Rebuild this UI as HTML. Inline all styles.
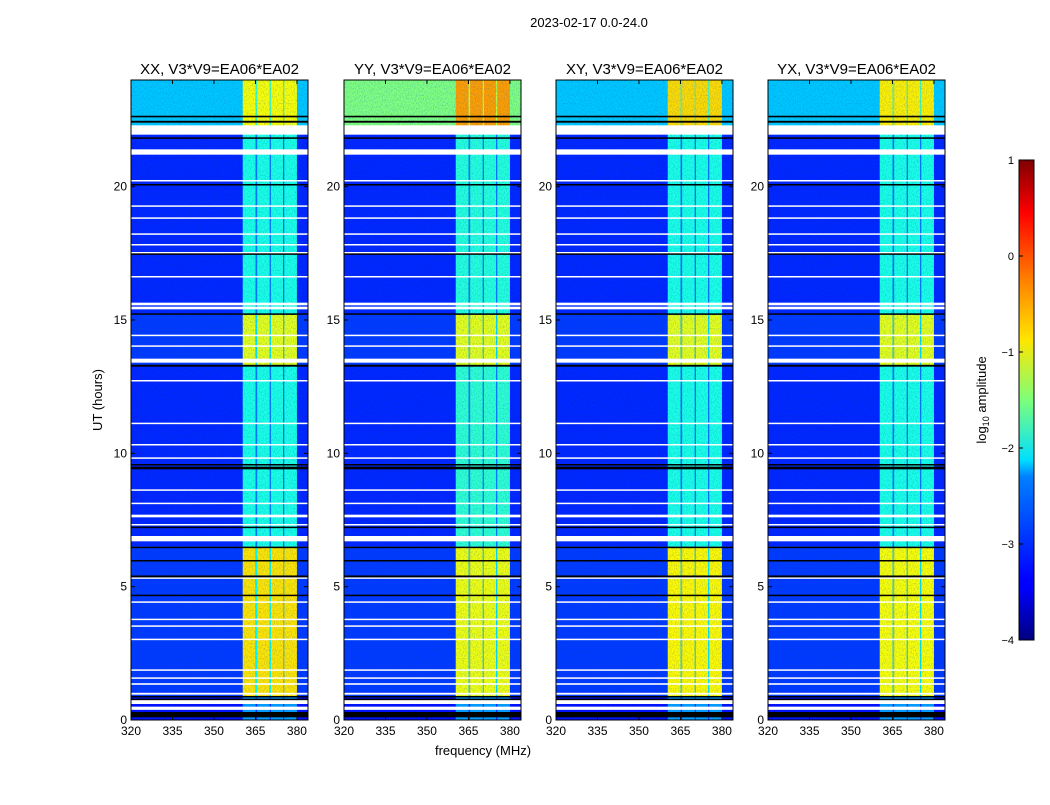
<!DOCTYPE html>
<html><head><meta charset="utf-8"><style>
body{margin:0;background:#fff;width:1050px;height:800px;overflow:hidden;font-family:"Liberation Sans",sans-serif}
svg text{font-family:"Liberation Sans",sans-serif}
</style></head><body>
<svg id="chart" width="1050" height="800" xmlns="http://www.w3.org/2000/svg">
<defs>
<filter id="noise" x="0" y="0" width="100%" height="100%">
<feTurbulence type="fractalNoise" baseFrequency="0.9 0.6" numOctaves="2" seed="3" result="t"/>
<feColorMatrix type="matrix" values="0 0 0 0 0  0 0 0 0 0.1  0 0 0 0 0.5  0 0 0 1.4 -0.6"/>
</filter>
<linearGradient id="jet" x1="0" y1="1" x2="0" y2="0">
<stop offset="0" stop-color="#00007f"/><stop offset="0.11" stop-color="#0000ff"/><stop offset="0.125" stop-color="#0000ff"/>
<stop offset="0.34" stop-color="#0080ff"/><stop offset="0.375" stop-color="#00dfff"/><stop offset="0.5" stop-color="#7dff7a"/>
<stop offset="0.625" stop-color="#ffe600"/><stop offset="0.75" stop-color="#ff8000"/><stop offset="0.89" stop-color="#ff0000"/><stop offset="1" stop-color="#7f0000"/>
</linearGradient>
</defs>
<text x="589" y="27" font-size="13" text-anchor="middle">2023-02-17 0.0-24.0</text>
<text x="483" y="755" font-size="13" text-anchor="middle">frequency (MHz)</text>
<text transform="translate(102,400) rotate(-90)" font-size="13" text-anchor="middle">UT (hours)</text>
<g id="panels"></g>
<g id="cbar"></g>
</svg>
<script>
// ---- data ----
const panelTitles = ["XX, V3*V9=EA06*EA02","YY, V3*V9=EA06*EA02","XY, V3*V9=EA06*EA02","YX, V3*V9=EA06*EA02"];
const xTicks = [320,335,350,365,380];
const yTicks = [0,5,10,15,20];
const cbarTicks = [1,0,-1,-2,-3,-4];
// time segments [startHour, endHour]
const segStart = [0.0, 0.86, 6.5, 13.3, 15.2, 22.2];
const segEnd   = [0.86, 6.5, 13.3, 15.2, 22.2, 24.0];
// background (off-band) log10 amplitude per segment, per panel
const bgLevel = [
 [-3.3,-3.1,-3.2,-3.1,-3.2,-2.4],
 [-3.3,-3.1,-3.2,-3.1,-3.2,-1.5],
 [-3.3,-3.1,-3.2,-3.1,-3.2,-2.4],
 [-3.3,-3.1,-3.2,-3.1,-3.2,-2.4]];
// RFI band log10 amplitude per segment, per panel
const bandLevel = [
 [-2.6,-0.75,-2.0,-1.0,-2.0,-0.9],
 [-2.6,-0.95,-1.9,-1.0,-1.95,-0.4],
 [-2.6,-0.85,-2.0,-1.0,-2.0,-0.7],
 [-2.6,-0.9,-2.0,-1.0,-2.0,-0.8]];
// sub-band edges in MHz
const bandLo = [360.4,365.6,370.6,375.4];
const bandHi = [365.1,370.2,375.0,380.0];
// flagged (white) rows [hourStart, hourEnd]
const whiteLo = [0.38,0.6,0.95,1.32,1.55,1.85,3.0,3.5,3.75,4.4,5.3,6.7,7.3,7.6,8.1,8.6,9.8,10.3,11.1,12.7,13.4,14.0,14.4,15.4,15.55,16.6,17.5,17.8,18.2,18.8,19.25,20.2,21.2,21.95];
const whiteHi = [0.5,0.75,1.02,1.38,1.6,1.9,3.05,3.55,3.8,4.45,5.35,6.9,7.35,7.7,8.15,8.65,9.85,10.35,11.15,12.75,13.55,14.05,14.45,15.5,15.65,16.65,17.55,17.85,18.25,18.85,19.3,20.25,21.4,22.3];
// dead (black) rows [hourStart, hourEnd]
const blackLo = [0.1,0.75,0.85,4.65,5.35,5.95,6.45,7.2,9.4,9.55,13.25,15.2,17.45,20.05,21.8,22.4,22.6];
const blackHi = [0.3,0.8,0.9,4.7,5.42,6.0,6.5,7.25,9.5,9.6,13.32,15.25,17.5,20.1,21.85,22.47,22.66];
// ---- axes ----
const panelX0 = [131,344,556,768], pw = 177, ptop = 80, pbot = 720;
const fmin = 320, fmax = 384, hmax = 24;
const xs = (p,f)=>panelX0[p] + (f-fmin)/(fmax-fmin)*pw;
const ys = h => pbot - h/hmax*(pbot-ptop);
function jet(v){ // v in -4..1
  let t = Math.max(0,Math.min(1,(v+4)/5));
  const r = Math.max(0,Math.min(1,1.5-Math.abs(4*t-3)));
  const g = Math.max(0,Math.min(1,1.5-Math.abs(4*t-2)));
  const b = Math.max(0,Math.min(1,1.5-Math.abs(4*t-1)));
  return `rgb(${Math.round(r*255)},${Math.round(g*255)},${Math.round(b*255)})`;
}
const NS="http://www.w3.org/2000/svg";
function mk(tag,attrs,parent){const e=document.createElementNS(NS,tag);for(const k in attrs)e.setAttribute(k,attrs[k]);parent.appendChild(e);return e;}
const root=document.getElementById('panels');
for(let p=0;p<4;p++){
  const g=mk('g',{},root);
  
  
  const t=mk('text',{x:panelX0[p]+pw/2,y:74,'font-size':15,'text-anchor':'middle'},g);
  t.textContent=panelTitles[p];
  
  
  for(let s=0;s<segStart.length;s++){
    const y1=ys(segEnd[s]), y2=ys(segStart[s]);
    const bg=mk('rect',{x:xs(p,fmin),y:y1,width:pw,height:y2-y1,fill:jet(bgLevel[p][s])},g);
    
    
    for(let b=0;b<bandLo.length;b++){
      const r=mk('rect',{x:xs(p,bandLo[b]),y:y1,width:xs(p,bandHi[b])-xs(p,bandLo[b]),height:y2-y1,fill:jet(bandLevel[p][s])},g);
      
      
      if(b<bandLo.length-1){
        const gp=mk('rect',{x:xs(p,bandHi[b]),y:y1,width:xs(p,bandLo[b+1])-xs(p,bandHi[b]),height:y2-y1,fill:jet((bandLevel[p][s]+bgLevel[p][s])/2-0.2)},g);
        
        
      }
    }
  }
  mk('rect',{x:panelX0[p],y:ptop,width:pw,height:pbot-ptop,fill:'#000',filter:'url(#noise)',opacity:0.5},g);
  for(let i=0;i<whiteLo.length;i++){
    const r=mk('rect',{x:panelX0[p],y:ys(whiteHi[i]),width:pw,height:Math.max(1.5,ys(whiteLo[i])-ys(whiteHi[i])),fill:'#fff'},g);
    
    
  }
  for(let i=0;i<blackLo.length;i++){
    const r=mk('rect',{x:panelX0[p],y:ys(blackHi[i]),width:pw,height:Math.max(1.5,ys(blackLo[i])-ys(blackHi[i])),fill:'#000'},g);
    
    
  }
  mk('rect',{x:panelX0[p],y:ptop,width:pw,height:pbot-ptop,fill:'none',stroke:'#000','stroke-width':1},g);
  xTicks.forEach(v=>{
    const x=xs(p,v);
    mk('line',{x1:x,y1:pbot,x2:x,y2:pbot-4,stroke:'#000'},g);
    mk('line',{x1:x,y1:ptop,x2:x,y2:ptop+4,stroke:'#000'},g);
    const tx=mk('text',{x:x,y:pbot+15,'font-size':12,'text-anchor':'middle'},g);
    tx.textContent=v;
    
    
  });
  yTicks.forEach(v=>{
    const y=ys(v);
    mk('line',{x1:panelX0[p],y1:y,x2:panelX0[p]+4,y2:y,stroke:'#000'},g);
    mk('line',{x1:panelX0[p]+pw,y1:y,x2:panelX0[p]+pw-4,y2:y,stroke:'#000'},g);
    const ty=mk('text',{x:panelX0[p]-4,y:y+4,'font-size':12,'text-anchor':'end'},g);
    ty.textContent=v;
    
    
  });
}
// colorbar
const cb=document.getElementById('cbar');
const cbTop=160,cbBot=640,cbX=1019,cbW=15;
const cy=v=>cbBot-(v+4)/5*(cbBot-cbTop);
mk('rect',{x:cbX,y:cbTop,width:cbW,height:cbBot-cbTop,fill:'url(#jet)',stroke:'#000'},cb);
cbarTicks.forEach(v=>{
  const t=mk('text',{x:cbX-5,y:cy(v)+4,'font-size':11,'text-anchor':'end'},cb);
  t.textContent=(v<0?'\u2212'+(-v):v);
  
  
  mk('line',{x1:cbX,y1:cy(v),x2:cbX+4,y2:cy(v),stroke:'#000'},cb);
});
const cl=mk('text',{transform:'translate(986,400) rotate(-90)','font-size':13,'text-anchor':'middle'},cb);
cl.innerHTML='log<tspan font-size="9" dy="3">10</tspan><tspan dy="-3"> amplitude</tspan>';


</script>
</body></html>
